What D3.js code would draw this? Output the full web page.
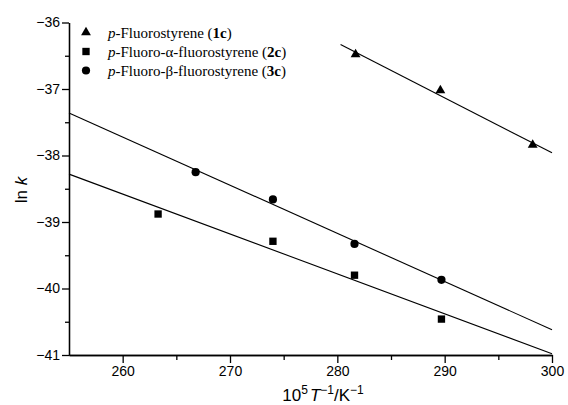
<!DOCTYPE html>
<html>
<head>
<meta charset="utf-8">
<script src="https://cdn.jsdelivr.net/npm/d3@7"></script>
<style>
  body { margin: 0; background: #fff; }
  svg { display: block; }
  .axis text { font-family: "Liberation Sans", Arial, sans-serif; font-size: 14px; fill: #000; }
  .axis path, .axis line { stroke: #000; stroke-width: 1.3px; }
</style>
</head>
<body>
<div id="chart"></div>
<script>
// points: 10^5/T vs ln k
var x1c = [281.7, 289.6, 298.2];
var y1c = [-36.48, -37.02, -37.84];
var x2c = [263.3, 274.0, 281.6, 289.7];
var y2c = [-38.88, -39.29, -39.80, -40.46];
var x3c = [266.8, 274.0, 281.6, 289.7];
var y3c = [-38.25, -38.66, -39.33, -39.87];

// fitted lines, end points as drawn
var fit1c = [[280.3, -36.33], [300, -37.96]];
var fit2c = [[255, -38.28], [300, -40.98]];
var fit3c = [[255, -37.36], [300, -40.62]];

var xMajor = [260, 270, 280, 290, 300];
var xMinor = [265, 275, 285, 295];
var yMajor = [-41, -40, -39, -38, -37, -36];
var yMinor = [-40.5, -39.5, -38.5, -37.5, -36.5];

var W = 568, H = 405;

var svg = d3.select("#chart").append("svg")
    .attr("width", W)
    .attr("height", H);

var x = d3.scaleLinear().domain([255, 300]).range([69, 552]);
var y = d3.scaleLinear().domain([-41, -36]).range([355, 22.5]);

// axes
svg.append("g")
    .attr("class", "axis")
    .attr("transform", "translate(0," + y(-41) + ")")
    .call(d3.axisBottom(x).tickValues(xMinor).tickSize(5).tickSizeOuter(0).tickFormat(""));
svg.append("g")
    .attr("class", "axis")
    .attr("transform", "translate(0," + y(-41) + ")")
    .call(d3.axisBottom(x).tickValues(xMajor).tickSize(8).tickSizeOuter(0).tickPadding(3).tickFormat(d3.format("d")));

svg.append("g")
    .attr("class", "axis")
    .attr("transform", "translate(" + x(255) + ",0)")
    .call(d3.axisLeft(y).tickValues(yMinor).tickSize(4).tickSizeOuter(0).tickFormat(""));
svg.append("g")
    .attr("class", "axis")
    .attr("transform", "translate(" + x(255) + ",0)")
    .call(d3.axisLeft(y).tickValues(yMajor).tickSize(7).tickSizeOuter(0).tickPadding(2).tickFormat(d3.format("d")));

// axis titles
var yt = svg.append("text")
    .attr("transform", "translate(27,190) rotate(-90)")
    .attr("text-anchor", "middle")
    .style("font-family", "Liberation Sans, Arial, sans-serif")
    .style("font-size", "17px");
yt.append("tspan").text("ln ");
yt.append("tspan").style("font-style", "italic").text("k");

var xt = svg.append("text")
    .attr("x", 323)
    .attr("y", 401)
    .attr("text-anchor", "middle")
    .style("font-family", "Liberation Sans, Arial, sans-serif")
    .style("font-size", "17px");
xt.append("tspan").text("10");
xt.append("tspan").attr("dy", -7).style("font-size", "12px").text("5");
xt.append("tspan").attr("dy", 7).attr("dx", 2).style("font-style", "italic").text("T");
xt.append("tspan").attr("dy", -7).style("font-size", "12px").text("\u22121");
xt.append("tspan").attr("dy", 7).text("/K");
xt.append("tspan").attr("dy", -7).style("font-size", "12px").text("\u22121");

// fitted lines
var line = d3.line().x(function(d) { return x(d[0]); }).y(function(d) { return y(d[1]); });
[fit1c, fit2c, fit3c].forEach(function(f) {
  svg.append("path")
      .attr("d", line(f))
      .attr("fill", "none")
      .attr("stroke", "#000")
      .attr("stroke-width", 1.1);
});

var tri = d3.symbol().type(d3.symbolTriangle).size(42);
var sq = d3.symbol().type(d3.symbolSquare).size(54);

// points
svg.append("g").selectAll("path")
    .data(d3.zip(x1c, y1c))
    .enter().append("path")
    .attr("d", tri)
    .attr("transform", function(d) { return "translate(" + x(d[0]) + "," + y(d[1]) + ")"; })
    .attr("fill", "#000");

svg.append("g").selectAll("path")
    .data(d3.zip(x2c, y2c))
    .enter().append("path")
    .attr("d", sq)
    .attr("transform", function(d) { return "translate(" + x(d[0]) + "," + y(d[1]) + ")"; })
    .attr("fill", "#000");

svg.append("g").selectAll("circle")
    .data(d3.zip(x3c, y3c))
    .enter().append("circle")
    .attr("cx", function(d) { return x(d[0]); })
    .attr("cy", function(d) { return y(d[1]); })
    .attr("r", 4.1)
    .attr("fill", "#000");

// legend
var legend = [
  {sym: "tri", pre: "p", name: "-Fluorostyrene (", id: "1c"},
  {sym: "sq", pre: "p", name: "-Fluoro-\u03b1-fluorostyrene (", id: "2c"},
  {sym: "circ", pre: "p", name: "-Fluoro-\u03b2-fluorostyrene (", id: "3c"}
];
var lg = svg.append("g");
legend.forEach(function(d, i) {
  var ly = 32.5 + i * 19;
  if (d.sym == "tri") {
    lg.append("path").attr("d", tri).attr("transform", "translate(86," + ly + ")").attr("fill", "#000");
  } else if (d.sym == "sq") {
    lg.append("path").attr("d", sq).attr("transform", "translate(86," + ly + ")").attr("fill", "#000");
  } else {
    lg.append("circle").attr("cx", 86).attr("cy", ly).attr("r", 4.1).attr("fill", "#000");
  }
  var t = lg.append("text")
      .attr("x", 108)
      .attr("y", ly + 5)
      .style("font-family", "Liberation Serif, Times New Roman, serif")
      .style("font-size", "15px");
  t.append("tspan").style("font-style", "italic").text(d.pre);
  t.append("tspan").text(d.name);
  t.append("tspan").style("font-weight", "bold").text(d.id);
  t.append("tspan").text(")");
});
</script>
</body>
</html>
